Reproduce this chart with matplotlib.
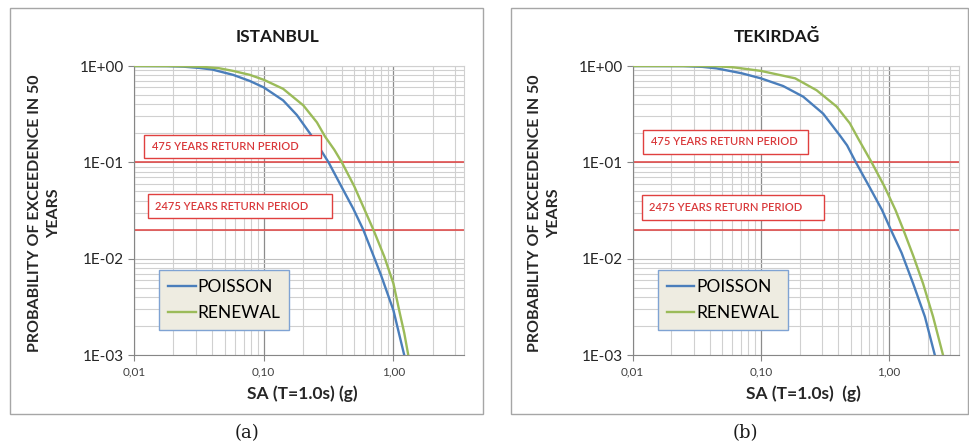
import numpy as np
import matplotlib
matplotlib.use('Agg')
import matplotlib.pyplot as plt
from matplotlib.patches import Rectangle
from matplotlib.ticker import FixedLocator, LogLocator, NullFormatter

plt.rcParams['font.family'] = ['Lato', 'DejaVu Sans']

# Istanbul hazard curves (SA in g, probability of exceedence in 50 years)
ist_poisson_sa = [0.01, 0.018, 0.024, 0.032, 0.04, 0.058, 0.078, 0.1, 0.141, 0.18, 0.227,
                  0.27, 0.316, 0.40, 0.49, 0.585, 0.70, 0.8, 1.0, 1.1, 1.21]
ist_poisson_p = [1.0, 0.997, 0.985, 0.955, 0.92, 0.81, 0.70, 0.60, 0.44, 0.31, 0.2,
                 0.14, 0.1, 0.055, 0.033, 0.02, 0.0108, 0.0068, 0.0029, 0.0017, 0.001]
ist_renewal_sa = [0.01, 0.02, 0.032, 0.045, 0.058, 0.078, 0.1, 0.141, 0.202, 0.257, 0.297,
                  0.35, 0.40, 0.50, 0.60, 0.70, 0.85, 1.0, 1.12, 1.21, 1.30]
ist_renewal_p = [1.0, 0.998, 0.985, 0.95, 0.89, 0.81, 0.72, 0.58, 0.39, 0.26, 0.185,
                 0.135, 0.1, 0.056, 0.032, 0.02, 0.0105, 0.0055, 0.0027, 0.0017, 0.001]

# Tekirdag hazard curves
tek_poisson_sa = [0.01, 0.0248, 0.035, 0.045, 0.071, 0.1, 0.149, 0.214, 0.306, 0.413,
                  0.47, 0.55, 0.70, 0.88, 1.03, 1.25, 1.54, 1.9, 2.27]
tek_poisson_p = [1.0, 0.998, 0.98, 0.946, 0.84, 0.745, 0.62, 0.48, 0.32, 0.19,
                 0.15, 0.1, 0.056, 0.032, 0.02, 0.0115, 0.0055, 0.0025, 0.001]
tek_renewal_sa = [0.01, 0.03, 0.045, 0.061, 0.1, 0.185, 0.272, 0.389, 0.494, 0.573,
                  0.73, 0.92, 1.12, 1.29, 1.55, 1.84, 2.2, 2.63]
tek_renewal_p = [1.0, 0.999, 0.995, 0.97, 0.89, 0.745, 0.56, 0.38, 0.254, 0.177,
                 0.1, 0.056, 0.032, 0.02, 0.0105, 0.0055, 0.0025, 0.001]

# return period levels
rp_labels = ['475 YEARS RETURN PERIOD', '2475 YEARS RETURN PERIOD']
rp_probs = [0.1, 0.02]

y_ticks = [1, 0.1, 0.01, 0.001]
y_ticklabels = ['1E+00', '1E-01', '1E-02', '1E-03']
x_ticks = [0.01, 0.1, 1.0]
x_ticklabels = ['0,01', '0,10', '1,00']

blue = '#4A7EBB'
green = '#9BBB59'
red = '#E0403F'
red_txt = '#D9383A'

fig = plt.figure(figsize=(9.69, 4.47), dpi=100)

panels = [
    dict(title='ISTANBUL', xlabel='SA (T=1.0s) (g)', cap='(a)',
         rect=[0.1383, 0.2058, 0.3406, 0.6465], frame=(0.0103, 0.0738, 0.4882, 0.9082),
         title_x=0.2859, ylab_x=0.0464, xlab_x=0.3117, cap_x=0.2549,
         curves=[(ist_poisson_sa, ist_poisson_p), (ist_renewal_sa, ist_renewal_p)],
         boxes=[(0.030, 0.682, 0.537, 0.079, 0.054), (0.042, 0.474, 0.558, 0.083, 0.064)],
         leg_x=0.076),
    dict(title='TEKIRDAĞ', xlabel='SA (T=1.0s)  (g)', cap='(b)',
         rect=[0.6529, 0.2058, 0.3367, 0.6465], frame=(0.5273, 0.0738, 0.4717, 0.9082),
         title_x=0.8015, ylab_x=0.5624, xlab_x=0.8287, cap_x=0.7688,
         curves=[(tek_poisson_sa, tek_poisson_p), (tek_renewal_sa, tek_renewal_p)],
         boxes=[(0.032, 0.6955, 0.506, 0.084, 0.055), (0.0285, 0.468, 0.5575, 0.0856, 0.051)],
         leg_x=0.0775),
]

for pn in panels:
    fx, fy, fw, fh = pn['frame']
    fig.add_artist(Rectangle((fx, fy), fw, fh, transform=fig.transFigure,
                             fill=False, edgecolor='#A6A6A6', lw=1.0))
    ax = fig.add_axes(pn['rect'])
    ax.set_xscale('log')
    ax.set_yscale('log')
    ax.set_xlim(0.01, 3.5)
    ax.set_ylim(0.001, 1)

    (ps, pp), (rs, rpv) = pn['curves']
    ax.plot(ps, pp, color=blue, lw=1.7, label='POISSON', zorder=3,
            solid_joinstyle='round')
    ax.plot(rs, rpv, color=green, lw=1.7, label='RENEWAL', zorder=3,
            solid_joinstyle='round')
    for p in rp_probs:
        ax.axhline(p, color=red, lw=1.1, zorder=2.5)

    for (bx, by, bw, bh, tx), lab in zip(pn['boxes'], rp_labels):
        ax.add_patch(Rectangle((bx, by), bw, bh, transform=ax.transAxes,
                               facecolor='white', edgecolor=red, lw=1.0, zorder=4))
        ax.text(tx, by + bh / 2, lab, transform=ax.transAxes, color=red_txt,
                fontsize=8, fontweight='semibold', ha='left', va='center', zorder=5)

    ax.xaxis.set_major_locator(FixedLocator(x_ticks))
    ax.set_xticklabels(x_ticklabels)
    ax.yaxis.set_major_locator(FixedLocator(y_ticks))
    ax.set_yticklabels(y_ticklabels)
    ax.xaxis.set_minor_locator(LogLocator(base=10, subs=np.arange(2, 10)))
    ax.yaxis.set_minor_locator(LogLocator(base=10, subs=np.arange(2, 10)))
    ax.xaxis.set_minor_formatter(NullFormatter())
    ax.yaxis.set_minor_formatter(NullFormatter())
    ax.tick_params(which='minor', length=0)
    ax.tick_params(axis='x', which='major', length=4, width=0.8, color='#868686',
                   labelsize=8.5, labelcolor='#404040', pad=4)
    ax.tick_params(axis='y', which='major', length=4, width=0.8, color='#868686',
                   labelsize=11, labelcolor='#262626', pad=3)
    ax.grid(which='minor', color='#D0D0D0', lw=0.8)
    ax.grid(which='major', axis='y', color='#C0C0C0', lw=0.8)
    ax.grid(which='major', axis='x', color='#8C8C8C', lw=0.9)
    ax.set_axisbelow(True)
    for side in ['left', 'bottom']:
        ax.spines[side].set_color('#868686')
    for side in ['top', 'right']:
        ax.spines[side].set_color('#D0D0D0')

    leg = ax.legend(loc='lower left', bbox_to_anchor=(pn['leg_x'], 0.0865),
                    fontsize=12.5, frameon=True, fancybox=False,
                    handlelength=1.6, handletextpad=0.1, labelspacing=0.6,
                    borderpad=0.5, borderaxespad=0)
    leg.get_frame().set_facecolor('#EEECE1')
    leg.get_frame().set_edgecolor('#7FA3D3')
    leg.get_frame().set_linewidth(1.0)
    leg.get_frame().set_alpha(1)
    leg.set_zorder(6)

    fig.text(pn['title_x'], 0.917, pn['title'], ha='center', va='center',
             fontsize=12.5, fontweight='bold', color='#1A1A1A')
    fig.text(pn['ylab_x'], 0.5235, 'PROBABILITY OF EXCEEDENCE IN 50\nYEARS',
             rotation=90, ha='center', va='center', fontsize=11.5,
             fontweight='bold', color='#262626', linespacing=1.45)
    fig.text(pn['xlab_x'], 0.1186, pn['xlabel'], ha='center', va='center',
             fontsize=12.5, fontweight='bold', color='#262626')
    fig.text(pn['cap_x'], 0.0313, pn['cap'], ha='center', va='center',
             fontsize=13, family='DejaVu Serif', color='#1A1A1A')

fig.savefig('out.png', dpi=100)
